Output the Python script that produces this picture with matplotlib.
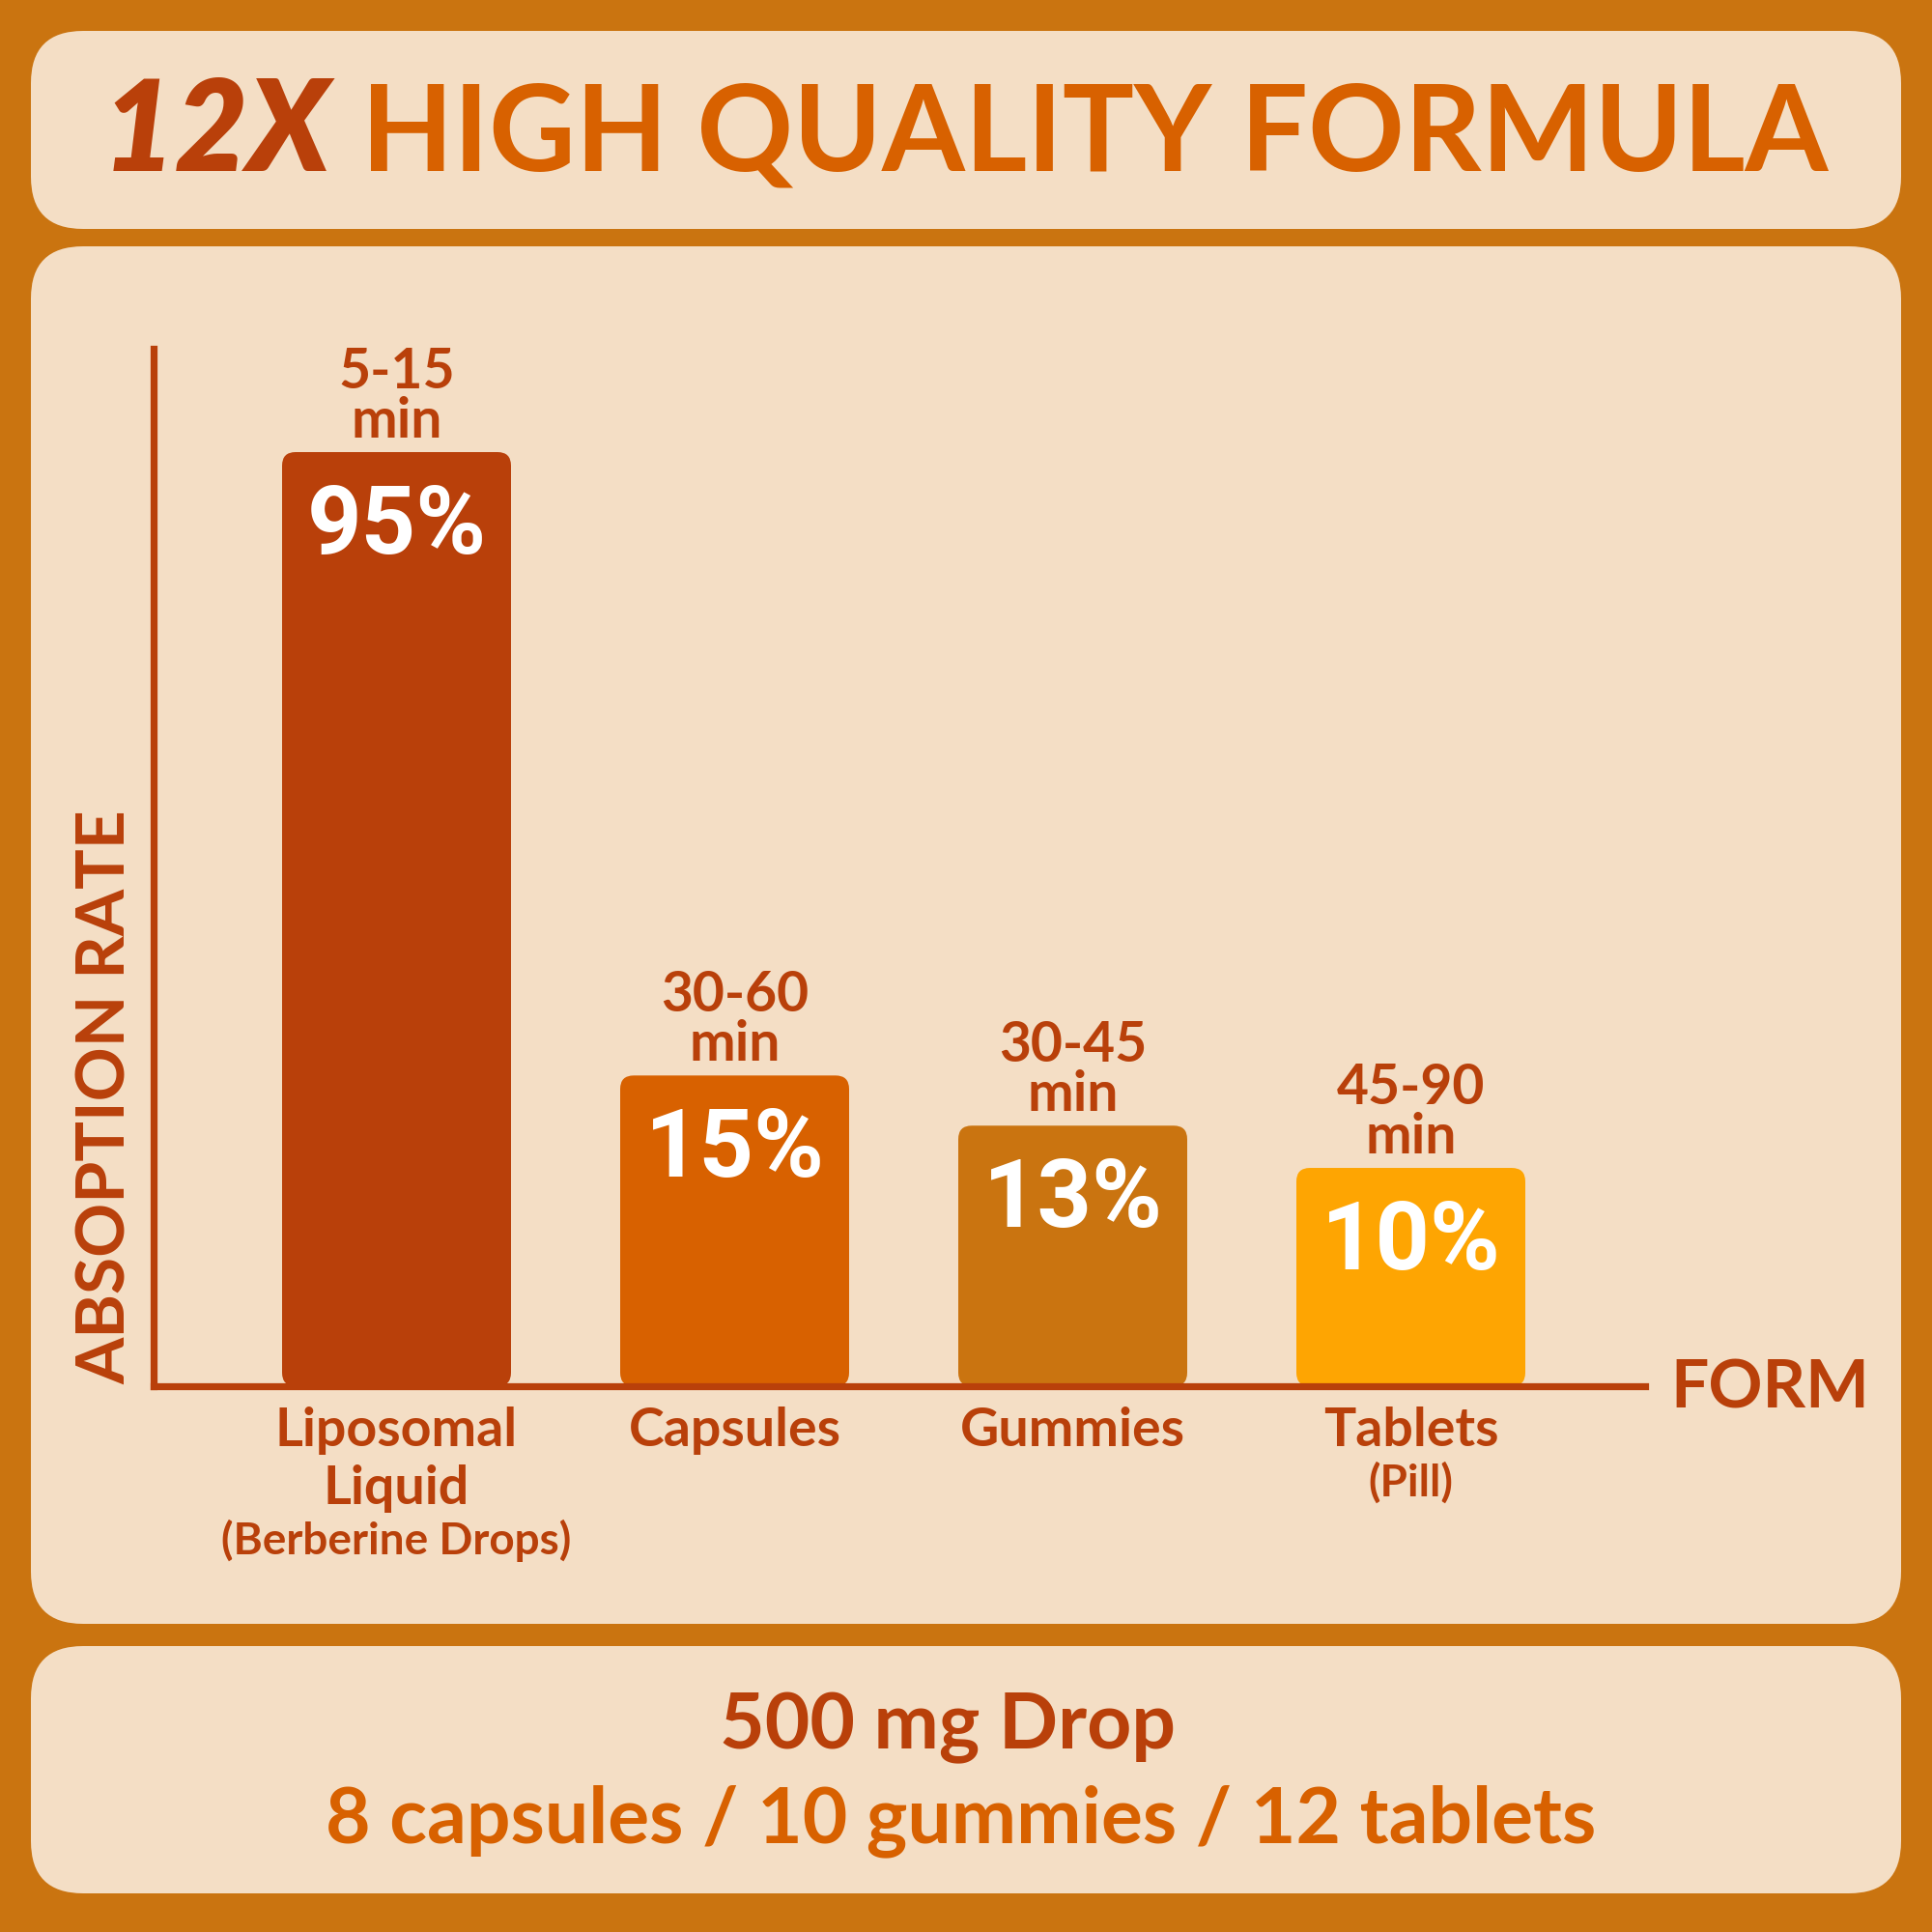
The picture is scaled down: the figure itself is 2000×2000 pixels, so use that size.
import matplotlib
matplotlib.use("Agg")
import matplotlib.pyplot as plt
from matplotlib.patches import FancyBboxPatch

# data
forms = [["Liposomal", "Liquid"], ["Capsules"], ["Gummies"], ["Tablets"]]
form_notes = ["(Berberine Drops)", "", "", "(Pill)"]
absorption = [95, 15, 13, 10]          # printed on the bars (%)
bar_height = [95, 31.6, 26.5, 22.2]    # drawn height, infographic scale
times = ["5-15", "30-60", "30-45", "45-90"]
bar_colors = ["#B9400A", "#D86100", "#CA7410", "#FEA502"]

BG = "#CA7410"
PANEL = "#F4DEC5"
DARK = "#B9400A"
ORANGE = "#D86100"
SANS = ["Lato", "DejaVu Sans"]
COND = ["Roboto", "DejaVu Sans"]

W = 2000.0
fig = plt.figure(figsize=(20, 20), dpi=100, facecolor=BG)


def fy(py):
    return 1 - py / W


# rounded panels
for top, bot in [(32, 237), (255, 1681), (1704, 1960)]:
    fig.add_artist(FancyBboxPatch((32 / W, fy(bot)), 1936 / W, (bot - top) / W,
                                  boxstyle="round,pad=0,rounding_size=0.027",
                                  transform=fig.transFigure, fc=PANEL, ec="none", zorder=0))

# title
fig.text(106 / W, fy(177), "12X", fontsize=94, family=SANS, fontweight="heavy",
         fontstyle="italic", color=DARK, ha="left", va="baseline")
fig.text(374 / W, fy(177), "HIGH QUALITY FORMULA", fontsize=89, family=SANS,
         fontweight="bold", color=ORANGE, ha="left", va="baseline")

# chart axes: left line at x=159px, baseline at y=1435px
ax = fig.add_axes([159 / W, fy(1435), 1544 / W, 1074 / W])
ax.set_facecolor("none")
ax.set_xlim(-251.5 / 350, (1544 - 251.5) / 350)
ax.set_ylim(0, 1074 * 95 / 967)
for s in ["top", "right"]:
    ax.spines[s].set_visible(False)
for s in ["left", "bottom"]:
    ax.spines[s].set_color(DARK)
    ax.spines[s].set_linewidth(5.2)
    ax.spines[s].set_capstyle("projecting")
ax.set_xticks([])
ax.set_yticks([])

x = list(range(len(bar_height)))
bars = ax.bar(x, bar_height, width=237 / 350, color=bar_colors)

# swap plain bars for rounded ones
ux = (ax.get_xlim()[1] - ax.get_xlim()[0]) / 1544
uy = (ax.get_ylim()[1] - ax.get_ylim()[0]) / 1074
for b in bars:
    b.set_visible(False)
    ax.add_patch(FancyBboxPatch((b.get_x(), b.get_y()), b.get_width(), b.get_height(),
                                boxstyle="round,pad=0,rounding_size=%f" % (14 * ux),
                                mutation_aspect=uy / ux, fc=b.get_facecolor(), ec="none",
                                zorder=1))

for i, b in enumerate(bars):
    xc = b.get_x() + b.get_width() / 2
    h = b.get_height()
    ax.annotate("%d%%" % absorption[i], (xc, h), xytext=(0, -105), textcoords="offset pixels",
                ha="center", va="baseline", fontsize=71, family=COND, fontweight="bold",
                color="white")
    ax.annotate(times[i], (xc, h), xytext=(0, 66), textcoords="offset pixels",
                ha="center", va="baseline", fontsize=41, family=SANS, fontweight="bold",
                color=DARK, annotation_clip=False)
    ax.annotate("min", (xc, h), xytext=(0, 15), textcoords="offset pixels",
                ha="center", va="baseline", fontsize=41, family=SANS, fontweight="bold",
                color=DARK, annotation_clip=False)
    for k, line in enumerate(forms[i]):
        ax.annotate(line, (xc, 0), xytext=(0, -62 - 60 * k), textcoords="offset pixels",
                    ha="center", va="baseline", fontsize=40, family=SANS, fontweight="bold",
                    color=DARK, annotation_clip=False)
    if form_notes[i]:
        off = -62 - 60 * len(forms[i]) + 8
        ax.annotate(form_notes[i], (xc, 0), xytext=(0, off), textcoords="offset pixels",
                    ha="center", va="baseline", fontsize=33, family=SANS, fontweight="bold",
                    color=DARK, annotation_clip=False)

# axis titles
fig.text(1729 / W, fy(1458), "FORM", fontsize=50, family=SANS, fontweight="bold",
         color=DARK, ha="left", va="baseline")
fig.text(130 / W, fy(1433), "ABSOPTION RATE", fontsize=50, family=SANS, fontweight="bold",
         color=DARK, ha="left", va="baseline", rotation=90, rotation_mode="anchor")

# bottom panel
fig.text(981 / W, fy(1810), "500 mg Drop", fontsize=58, family=SANS, fontweight="bold",
         color=DARK, ha="center", va="baseline")
fig.text(995 / W, fy(1907), "8 capsules / 10 gummies / 12 tablets", fontsize=58,
         family=SANS, fontweight="bold", color=ORANGE, ha="center", va="baseline")

fig.savefig("out.png", dpi=100, facecolor=BG)
